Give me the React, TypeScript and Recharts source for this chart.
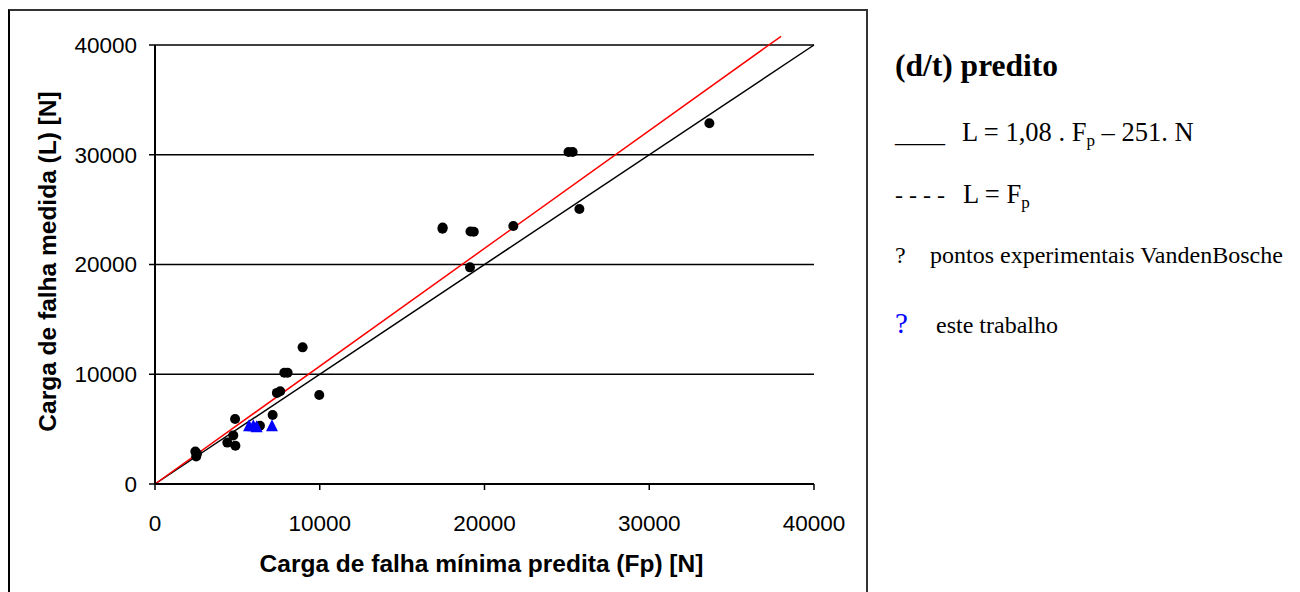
import React from 'react';
import {
  ScatterChart,
  Scatter,
  XAxis,
  YAxis,
  CartesianGrid,
  ReferenceLine,
} from 'recharts';

// Carga de falha mínima predita (Fp) x carga de falha medida (L), em N
const vandenBoscheFp = [
  33650, 25100, 25350, 25760, 17460, 17450, 19150, 19350, 21750, 19120,
  8960, 7850, 8050, 7400, 7600, 9970, 4860, 7140, 6370, 4750, 4390, 4880,
  2450, 2550, 2500,
];
const vandenBoscheL = [
  32870, 30250, 30250, 25060, 23360, 23250, 23000, 22990, 23510, 19740,
  12450, 10140, 10140, 8300, 8450, 8110, 5920, 6290, 5310, 4430, 3770, 3490,
  2950, 2750, 2500,
];
const esteTrabalhoFp = [5710, 5970, 6170, 7100];
const esteTrabalhoL = [5310, 5310, 5220, 5310];

// retas: ajuste (L = 1,08 . Fp - 251 N) e L = Fp
const ajusteFp = [0, 38000];
const ajusteL = [0, 40790];
const igualFp = [0, 40000];
const igualL = [0, 40000];

const axisTicks = [0, 10000, 20000, 30000, 40000];

const toPoints = (xs: number[], ys: number[]) =>
  xs.map((x, i) => ({ x, y: ys[i] }));

const vbData = toPoints(vandenBoscheFp, vandenBoscheL);
const etData = toPoints(esteTrabalhoFp, esteTrabalhoL);
const ajusteSeg = toPoints(ajusteFp, ajusteL);
const igualSeg = toPoints(igualFp, igualL);

const sans = '"Liberation Sans", Arial, sans-serif';
const serif = '"Liberation Serif", "Times New Roman", serif';

const Dot = (props: any) => (
  <circle cx={props.cx} cy={props.cy} r={5} fill="#000" />
);

const Tri = (props: any) => {
  const { cx, cy } = props;
  return (
    <path
      d={`M${cx},${cy - 6.5} L${cx + 6},${cy + 5.5} L${cx - 6},${cy + 5.5} Z`}
      fill="#0000ff"
    />
  );
};

const tickStyle = { fontFamily: sans, fontSize: 22.5, fill: '#000' };
const titleStyle = {
  fontFamily: sans,
  fontSize: 24.5,
  fontWeight: 'bold',
  fill: '#000',
};

function Legenda() {
  return (
    <svg
      width={1292}
      height={584}
      style={{ position: 'absolute', left: 0, top: 0, pointerEvents: 'none' }}
    >
      <g fontFamily={serif} fill="#000" style={{ whiteSpace: 'pre' }}>
        <text x={887} y={68} fontSize={31.5} fontWeight="bold">
          (d/t) predito
        </text>
        <text x={887} y={134} fontSize={25}>
          ____
        </text>
        <text x={954} y={133} fontSize={26.5}>
          L = 1,08 . F
          <tspan fontSize={17} dy={5}>p</tspan>
          <tspan dy={-5}> – 251. N</tspan>
        </text>
        <text x={887} y={195} fontSize={24}>
          - - - -
        </text>
        <text x={955} y={195} fontSize={26.5}>
          L = F
          <tspan fontSize={17} dy={5}>p</tspan>
        </text>
        <text x={887} y={255} fontSize={24}>
          ?
        </text>
        <text x={922} y={255} fontSize={24}>
          pontos experimentais VandenBosche
        </text>
        <text x={887} y={325} fontSize={29} fill="#0000ff">
          ?
        </text>
        <text x={928} y={325} fontSize={24}>
          este trabalho
        </text>
      </g>
    </svg>
  );
}

export default function App() {
  return (
    <div
      style={{
        position: 'relative',
        width: 1292,
        height: 584,
        overflow: 'hidden',
        background: '#fff',
      }}
    >
      <div
        style={{
          position: 'absolute',
          left: 0,
          top: 1,
          width: 860,
          height: 700,
          boxSizing: 'border-box',
          borderLeft: '2px solid #000',
          borderTop: '2px solid #333',
          borderRight: '2px solid #333',
        }}
      />
      <div style={{ position: 'absolute', left: 0, top: 0 }}>
        <ScatterChart
          width={858}
          height={584}
          margin={{ top: 37, right: 52, left: 47, bottom: 48 }}
          style={{ fontFamily: sans }}
        >
          <CartesianGrid
            horizontal
            vertical={false}
            stroke="#000"
            strokeWidth={1.5}
          />
          <XAxis
            type="number"
            dataKey="x"
            domain={[0, 40000]}
            ticks={axisTicks}
            allowDataOverflow
            height={60}
            tickSize={6}
            tickMargin={25}
            tick={tickStyle}
            axisLine={{ stroke: '#000', strokeWidth: 2 }}
            tickLine={{ stroke: '#000', strokeWidth: 1.5 }}
            label={{
              value: 'Carga de falha mínima predita (Fp) [N]',
              position: 'center',
              dy: 49,
              dx: -3,
              style: titleStyle,
            }}
          />
          <YAxis
            type="number"
            dataKey="y"
            domain={[0, 40000]}
            ticks={axisTicks}
            allowDataOverflow
            width={100}
            tickSize={6}
            tickMargin={12}
            tick={tickStyle}
            axisLine={{ stroke: '#000', strokeWidth: 2 }}
            tickLine={{ stroke: '#000', strokeWidth: 1.5 }}
            label={{
              value: 'Carga de falha medida (L) [N]',
              position: 'center',
              angle: -90,
              dx: -58,
              dy: -3,
              style: titleStyle,
            }}
          />
          <ReferenceLine
            segment={igualSeg}
            stroke="#000"
            strokeWidth={1.5}
            ifOverflow="visible"
          />
          <ReferenceLine
            segment={ajusteSeg}
            stroke="#ff0000"
            strokeWidth={1.5}
            ifOverflow="visible"
          />
          <Scatter
            name="pontos experimentais VandenBosche"
            data={vbData}
            shape={Dot}
            isAnimationActive={false}
          />
          <Scatter
            name="este trabalho"
            data={etData}
            shape={Tri}
            isAnimationActive={false}
          />
        </ScatterChart>
      </div>
      <Legenda />
    </div>
  );
}
